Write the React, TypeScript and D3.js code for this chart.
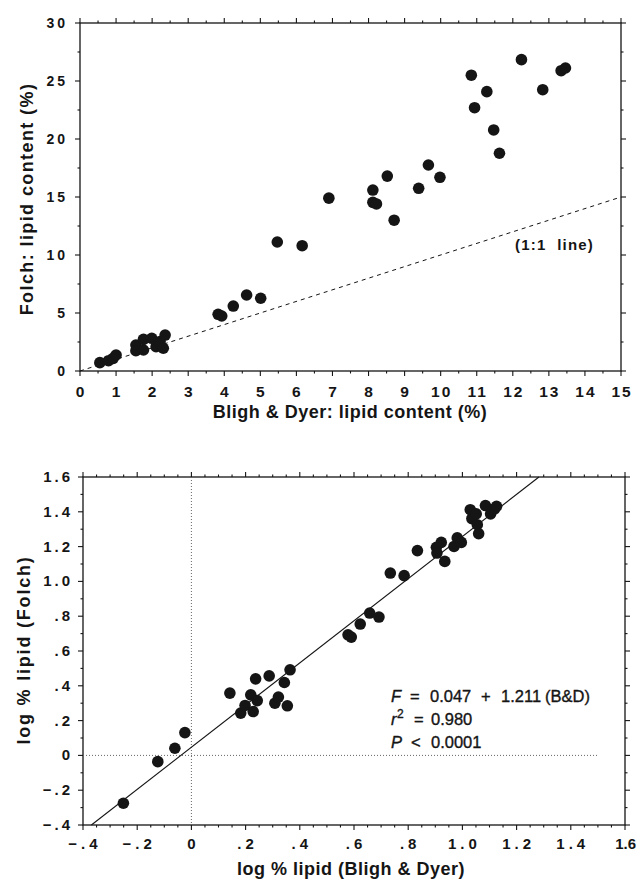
import React from "react";
import * as d3 from "d3";

// ---------- data (top panel: raw lipid %) ----------
const bdLipid = [0.55, 0.79, 0.92, 1.0, 1.55, 1.55, 1.76, 1.76, 1.99, 2.11, 2.22, 2.31, 2.36, 3.83, 3.93, 4.25, 4.62, 5.01, 5.47, 6.16, 6.9, 8.12, 8.12, 8.22, 8.71, 8.52, 9.39, 9.66, 9.98, 10.85, 10.94, 11.28, 11.47, 11.63, 12.24, 12.83, 13.34, 13.46];
const folchLipid = [0.72, 0.89, 1.09, 1.38, 2.24, 1.75, 2.73, 1.81, 2.82, 2.1, 2.53, 1.96, 3.1, 4.89, 4.74, 5.6, 6.55, 6.27, 11.12, 10.8, 14.9, 15.6, 14.54, 14.4, 13.0, 16.8, 15.75, 17.76, 16.7, 25.5, 22.7, 24.08, 20.78, 18.77, 26.84, 24.25, 25.89, 26.12];

// ---------- data (bottom panel: log lipid %) ----------
const logBD = [-0.251, -0.124, -0.061, -0.024, 0.142, 0.182, 0.198, 0.219, 0.228, 0.237, 0.243, 0.287, 0.308, 0.321, 0.343, 0.354, 0.364, 0.578, 0.59, 0.623, 0.658, 0.692, 0.734, 0.785, 0.834, 0.904, 0.906, 0.922, 0.935, 0.969, 0.981, 0.996, 1.029, 1.035, 1.051, 1.055, 1.06, 1.085, 1.104, 1.119, 1.126];
const logFolch = [-0.275, -0.036, 0.041, 0.131, 0.358, 0.243, 0.287, 0.348, 0.252, 0.44, 0.315, 0.457, 0.3, 0.335, 0.419, 0.285, 0.492, 0.693, 0.68, 0.755, 0.818, 0.795, 1.048, 1.033, 1.177, 1.196, 1.163, 1.224, 1.115, 1.201, 1.25, 1.224, 1.412, 1.361, 1.388, 1.326, 1.274, 1.436, 1.388, 1.417, 1.432];

// regression
const regIntercept = 0.047;
const regSlope = 1.211;

// ---------- ticks ----------
const topXTicks = [0, 1, 2, 3, 4, 5, 6, 7, 8, 9, 10, 11, 12, 13, 14, 15];
const topXLabels = ["0", "1", "2", "3", "4", "5", "6", "7", "8", "9", "10", "11", "12", "13", "14", "15"];
const topYTicks = [0, 5, 10, 15, 20, 25, 30];
const topYLabels = ["0", "5", "10", "15", "20", "25", "30"];
const botTicks = [-0.4, -0.2, 0, 0.2, 0.4, 0.6, 0.8, 1.0, 1.2, 1.4, 1.6];
const botXLabels = ["\u2212.4", "\u2212.2", "0", ".2", ".4", ".6", ".8", "1.0", "1.2", "1.4", "1.6"];
const botYLabels = ["\u2212.4", "\u2212.2", "0", ".2", ".4", ".6", ".8", "1.0", "1.2", "1.4", "1.6"];

const FONT = "'Liberation Sans', Arial, Helvetica, sans-serif";
const INK = "#151515";

type AxisProps = {
  x: d3.ScaleLinear<number, number>;
  y: d3.ScaleLinear<number, number>;
  xMajor: number[];
  xMinor: number[];
  yMajor: number[];
  yMinor: number[];
};

function Frame({ x, y, xMajor, xMinor, yMajor, yMinor }: AxisProps) {
  const [x0, x1] = x.range();
  const [y0, y1] = y.range(); // y0 bottom, y1 top
  const maj = 5;
  const mn = 2.5;
  const lines: React.ReactNode[] = [];
  xMajor.forEach((v, i) => {
    const px = x(v);
    lines.push(<line key={"xb" + i} x1={px} x2={px} y1={y0} y2={y0 + maj} />);
    lines.push(<line key={"xt" + i} x1={px} x2={px} y1={y1} y2={y1 - maj} />);
  });
  xMinor.forEach((v, i) => {
    const px = x(v);
    lines.push(<line key={"xbm" + i} x1={px} x2={px} y1={y0} y2={y0 + mn} />);
    lines.push(<line key={"xtm" + i} x1={px} x2={px} y1={y1} y2={y1 - mn} />);
  });
  yMajor.forEach((v, i) => {
    const py = y(v);
    lines.push(<line key={"yl" + i} x1={x0} x2={x0 - maj} y1={py} y2={py} />);
    lines.push(<line key={"yr" + i} x1={x1} x2={x1 + maj} y1={py} y2={py} />);
  });
  yMinor.forEach((v, i) => {
    const py = y(v);
    lines.push(<line key={"ylm" + i} x1={x0} x2={x0 - mn} y1={py} y2={py} />);
    lines.push(<line key={"yrm" + i} x1={x1} x2={x1 + mn} y1={py} y2={py} />);
  });
  return (
    <g stroke={INK} strokeWidth={1.1} fill="none">
      <rect x={x0} y={y1} width={x1 - x0} height={y0 - y1} strokeWidth={1.3} />
      {lines}
    </g>
  );
}

export default function App() {
  // top panel scales
  const xT = d3.scaleLinear().domain([0, 15]).range([80, 621]);
  const yT = d3.scaleLinear().domain([0, 30]).range([371, 23]);
  // bottom panel scales
  const xB = d3.scaleLinear().domain([-0.4, 1.6]).range([83, 625]);
  const yB = d3.scaleLinear().domain([-0.4, 1.6]).range([825, 477]);

  const topXMinor = d3.range(0.5, 15, 1);
  const topYMinor = d3.range(2.5, 30, 5);
  const botXMinor = d3.range(-0.4, 1.6001, 0.05).filter((v) => Math.abs(Math.round(v * 5) - v * 5) > 0.01);
  const botYMinor = d3.range(-0.3, 1.6, 0.2);

  const oneToOne = d3.line<number>().x((d) => xT(d)).y((d) => yT(d))([0, 15]);
  const regX0 = (-0.4 - regIntercept) / regSlope;
  const regX1 = (1.6 - regIntercept) / regSlope;
  const regLine = d3
    .line<number>()
    .x((d) => xB(d))
    .y((d) => yB(regIntercept + regSlope * d))([regX0, regX1]);

  const R = 5.8;
  const tickFont = { fontFamily: FONT, fontWeight: 700, fill: INK } as const;

  return (
    <svg
      width={638}
      height={879}
      viewBox="0 0 638 879"
      style={{ position: "absolute", left: 0, top: 0, background: "#fff" }}
    >
      <rect x={0} y={0} width={638} height={879} fill="#fff" />

      {/* ================= TOP PANEL ================= */}
      <Frame x={xT} y={yT} xMajor={topXTicks} xMinor={topXMinor} yMajor={topYTicks} yMinor={topYMinor} />
      <path d={oneToOne ?? ""} stroke={INK} strokeWidth={1} strokeDasharray="4,4" fill="none" />
      {bdLipid.map((v, i) => (
        <circle key={"t" + i} cx={xT(v)} cy={yT(folchLipid[i])} r={R} fill={INK} />
      ))}
      {topXTicks.map((v, i) => (
        <text key={"txl" + i} x={xT(v) + 1} y={397} textAnchor="middle" fontSize={15.5} letterSpacing={2} {...tickFont}>
          {topXLabels[i]}
        </text>
      ))}
      {topYTicks.map((v, i) => (
        <text key={"tyl" + i} x={68} y={yT(v) + 5} textAnchor="end" fontSize={14} letterSpacing={3} {...tickFont}>
          {topYLabels[i]}
        </text>
      ))}
      <text x={515} y={250} fontSize={15} letterSpacing={1.2} {...tickFont} style={{ whiteSpace: "pre" }}>
        (1:1  line)
      </text>
      <text x={350} y={418} textAnchor="middle" fontSize={18} letterSpacing={0.5} {...tickFont}>
        Bligh &amp; Dyer: lipid content (%)
      </text>
      <text transform="translate(33,199) rotate(-90)" textAnchor="middle" fontSize={18} letterSpacing={1.4} {...tickFont}>
        Folch: lipid content (%)
      </text>

      {/* ================= BOTTOM PANEL ================= */}
      <Frame x={xB} y={yB} xMajor={botTicks} xMinor={botXMinor} yMajor={botTicks} yMinor={botYMinor} />
      <line x1={xB(0)} x2={xB(0)} y1={yB(1.6)} y2={yB(-0.4)} stroke="#666" strokeWidth={1} strokeDasharray="1,2" />
      <line x1={xB(-0.4)} x2={xB(1.5)} y1={yB(0)} y2={yB(0)} stroke="#666" strokeWidth={1} strokeDasharray="1,2" />
      <path d={regLine ?? ""} stroke={INK} strokeWidth={1.1} fill="none" />
      {logBD.map((v, i) => (
        <circle key={"b" + i} cx={xB(v)} cy={yB(logFolch[i])} r={R} fill={INK} />
      ))}
      {botTicks.map((v, i) => {
        const last = i === botTicks.length - 1;
        return (
          <text
            key={"bxl" + i}
            x={last ? 636 : xB(v) + 2}
            y={849}
            textAnchor={last ? "end" : "middle"}
            fontSize={15}
            letterSpacing={last ? 0 : 4}
            {...tickFont}
          >
            {botXLabels[i]}
          </text>
        );
      })}
      {botTicks.map((v, i) => (
        <text key={"byl" + i} x={73} y={yB(v) + 5} textAnchor="end" fontSize={15} letterSpacing={3} {...tickFont}>
          {botYLabels[i]}
        </text>
      ))}
      <text x={351} y={875} textAnchor="middle" fontSize={18} letterSpacing={0.5} {...tickFont}>
        log % lipid (Bligh &amp; Dyer)
      </text>
      <text transform="translate(30,650) rotate(-90)" textAnchor="middle" fontSize={18} letterSpacing={1.8} {...tickFont}>
        log % lipid (Folch)
      </text>

      {/* regression annotation */}
      <g fontFamily={FONT} fontSize={16.5} fill={INK} stroke={INK} strokeWidth={0.35}>
        <text x={391} y={702} fontStyle="italic">F</text>
        <text x={410} y={702}>=</text>
        <text x={430} y={702}>0.047</text>
        <text x={481} y={702}>+</text>
        <text x={501} y={702}>1.211</text>
        <text x={545} y={702}>(B&amp;D)</text>

        <text x={391} y={725} fontStyle="italic">r</text>
        <text x={397} y={718} fontSize={12}>2</text>
        <text x={414} y={725}>=</text>
        <text x={431} y={725}>0.980</text>

        <text x={391} y={748} fontStyle="italic">P</text>
        <text x={411} y={748}>&lt;</text>
        <text x={431} y={748}>0.0001</text>
      </g>
    </svg>
  );
}
